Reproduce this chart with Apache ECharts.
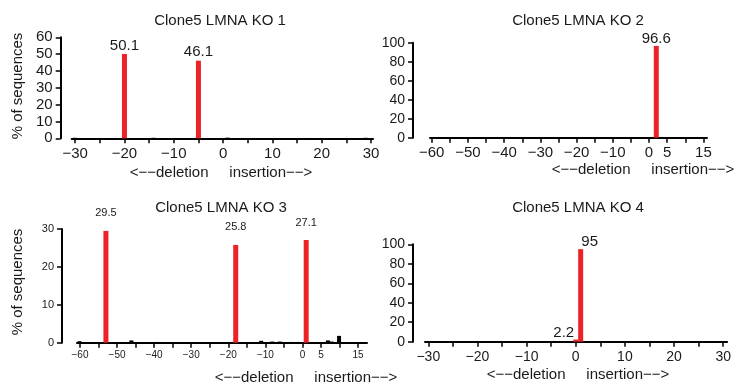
<!DOCTYPE html>
<html>
<head>
<meta charset="utf-8">
<script src="https://cdn.jsdelivr.net/npm/echarts@6/dist/echarts.min.js"></script>
<style>
  html, body { margin: 0; padding: 0; background: #fff; }
  #chart { width: 734px; height: 385px; }
</style>
</head>
<body>
<div id="chart"></div>
<script>
  // KO 1
  const ko1RedX = [-20, -5];
  const ko1RedY = [50.1, 46.1];
  const ko1BlackX = [-30, -14, 1, 18, 29];
  const ko1BlackY = [0.3, 0.3, 0.4, 0.2, 0.3];
  const ko1Ticks = [-30, -25, -20, -15, -10, -5, 0, 5, 10, 15, 20, 25, 30];
  const ko1Labels = [-30, -20, -10, 0, 10, 20, 30];

  // KO 2
  const ko2RedX = [2];
  const ko2RedY = [96.6];
  const ko2BlackX = [-20, -3];
  const ko2BlackY = [0.4, 0.5];
  const ko2Ticks = [-60, -55, -50, -45, -40, -35, -30, -25, -20, -15, -10, -5, 0, 5, 10, 15];
  const ko2Labels = [-60, -50, -40, -30, -20, -10, 0, 5, 15];

  // KO 3
  const ko3RedX = [-53, -18, 1];
  const ko3RedY = [29.5, 25.8, 27.1];
  const ko3BlackX = [-60, -46, -39, -19, -11, -8, -6, -3, -1, 7, 8, 10];
  const ko3BlackY = [0.4, 0.6, 0.2, 0.2, 0.5, 0.3, 0.3, 0.2, 0.2, 0.6, 0.3, 1.8];
  const ko3Ticks = ko2Ticks;
  const ko3Labels = ko2Labels;

  // KO 4
  const ko4RedX = [0, 1];
  const ko4RedY = [2.2, 95];
  const ko4BlackX = [-18, -13];
  const ko4BlackY = [0.3, 0.3];
  const ko4Ticks = ko1Ticks;
  const ko4Labels = ko1Labels;

  const titles = ['Clone5 LMNA KO 1', 'Clone5 LMNA KO 2', 'Clone5 LMNA KO 3', 'Clone5 LMNA KO 4'];
  const yName = '% of sequences';
  const xName = '<\u2212\u2212deletion     insertion\u2212\u2212>';

  const FONT = '"Liberation Sans", Arial, sans-serif';
  const TXT = '#1a1a1a';
  const RED = '#ec2227';

  const zip = (xs, ys) => xs.map((x, i) => [x, ys[i]]);
  const minus = v => String(v).replace('-', '\u2212');

  function xAxis (gridIndex, min, max, ticks, labels, fontSize) {
    return {
      type: 'value', gridIndex: gridIndex, min: min, max: max,
      splitLine: { show: false },
      axisLine: { onZero: false, lineStyle: { color: '#000', width: 2 } },
      axisTick: { customValues: ticks, length: 5, lineStyle: { color: '#000', width: 1.5 } },
      axisLabel: { customValues: labels, formatter: minus, fontSize: fontSize, color: TXT, fontFamily: FONT, margin: 8 }
    };
  }

  function yAxis (gridIndex, max, interval, offset, fontSize) {
    return {
      type: 'value', gridIndex: gridIndex, min: 0, max: max, interval: interval, offset: offset,
      splitLine: { show: false },
      axisLine: { show: true, onZero: false, lineStyle: { color: '#000', width: 2 } },
      axisTick: { show: true, length: 5, lineStyle: { color: '#000', width: 1.5 } },
      axisLabel: { fontSize: fontSize, color: TXT, fontFamily: FONT, margin: 8 }
    };
  }

  function redSeries (i, data, fontSize, distance, offsets) {
    return {
      type: 'bar', xAxisIndex: i, yAxisIndex: i, barWidth: 5, barGap: '-100%',
      itemStyle: { color: RED },
      data: data.map((d, k) => ({
        value: d,
        label: { offset: offsets ? offsets[k] : [0, 0] }
      })),
      label: {
        show: true, position: 'top', distance: distance,
        formatter: p => String(p.value[1]),
        fontSize: fontSize, color: TXT, fontFamily: FONT
      },
      z: 3
    };
  }

  function blackSeries (i, data) {
    return {
      type: 'bar', xAxisIndex: i, yAxisIndex: i, barWidth: 4, barGap: '-100%',
      itemStyle: { color: '#000' },
      data: data, z: 3
    };
  }

  const titleCenters = [[220, 13], [578, 13], [221, 200], [578, 200]];
  const nameSpots = [[221, 173], [643, 170], [306, 378], [578, 375]];

  const chart = echarts.init(document.getElementById('chart'));
  chart.setOption({
    animation: false,
    title: titles.map((t, i) => ({
      text: t, left: titleCenters[i][0], top: titleCenters[i][1], textAlign: 'center',
      padding: 0,
      textStyle: { fontSize: 15, fontWeight: 'normal', color: TXT, fontFamily: FONT }
    })),
    grid: [
      { left: 71.7, top: 37.3, width: 301.3, height: 101 },
      { left: 430, top: 42.7, width: 277, height: 95 },
      { left: 77, top: 229, width: 290, height: 113.7 },
      { left: 425, top: 244.3, width: 305, height: 97.4 }
    ],
    xAxis: [
      xAxis(0, -30.7, 30.4, ko1Ticks, ko1Labels, 15),
      xAxis(1, -60.47, 16, ko2Ticks, ko2Labels, 15),
      xAxis(2, -60.8, 17.4, ko3Ticks, ko3Labels, 10),
      xAxis(3, -30.67, 30.8, ko4Ticks, ko4Labels, 14)
    ],
    yAxis: [
      yAxis(0, 60, 10, 11, 15),
      yAxis(1, 100, 20, 17, 14),
      yAxis(2, 30, 10, 15, 11),
      yAxis(3, 100, 20, 12, 14)
    ],
    series: [
      blackSeries(0, zip(ko1BlackX, ko1BlackY)),
      redSeries(0, zip(ko1RedX, ko1RedY), 15, 1),
      blackSeries(1, zip(ko2BlackX, ko2BlackY)),
      redSeries(1, zip(ko2RedX, ko2RedY), 15, 0),
      blackSeries(2, zip(ko3BlackX, ko3BlackY)),
      redSeries(2, zip(ko3RedX, ko3RedY), 11, 12),
      blackSeries(3, zip(ko4BlackX, ko4BlackY)),
      redSeries(3, zip(ko4RedX, ko4RedY), 15, 0, [[-12, 1], [9, 0]])
    ],
    graphic: [
      { type: 'text', x: 18, y: 86, rotation: Math.PI / 2,
        style: { text: yName, fontSize: 15, fill: TXT, fontFamily: FONT, align: 'center', verticalAlign: 'middle' } },
      { type: 'text', x: 18, y: 282, rotation: Math.PI / 2,
        style: { text: yName, fontSize: 15, fill: TXT, fontFamily: FONT, align: 'center', verticalAlign: 'middle' } }
    ].concat(nameSpots.map(p => ({
      type: 'text', x: p[0], y: p[1],
      style: { text: xName, fontSize: 15, fill: TXT, fontFamily: FONT, align: 'center', verticalAlign: 'middle' }
    })))
  });
</script>
</body>
</html>
